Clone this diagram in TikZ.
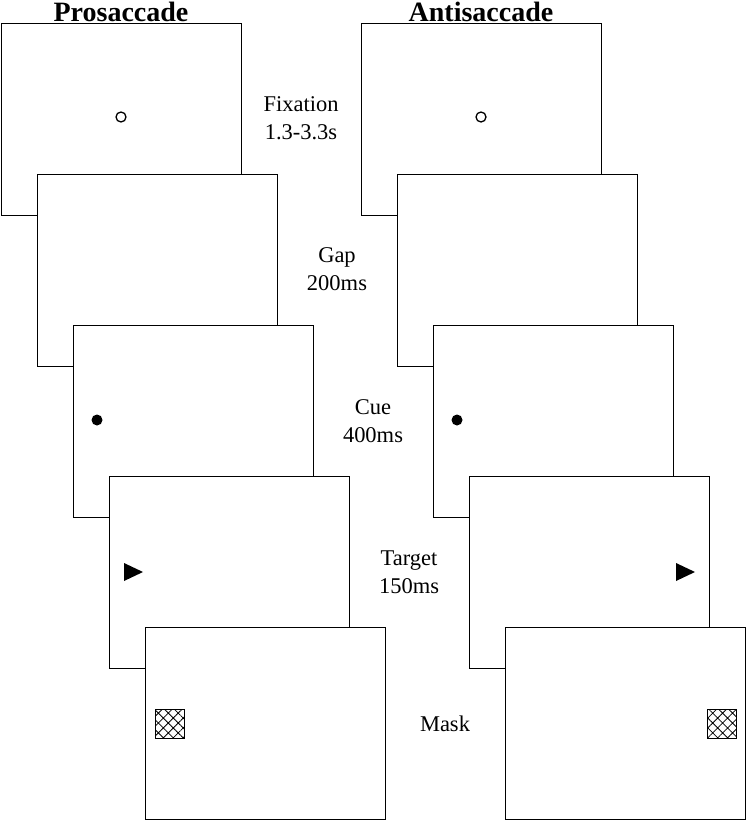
\documentclass[tikz,border=0pt]{standalone}
\usepackage{fontspec}
\setmainfont{Liberation Serif}
\usetikzlibrary{positioning,patterns.meta}

\tikzset{
  screen/.style={draw, fill=white, line width=1pt, minimum width=240pt,
    minimum height=192pt, inner sep=0pt, anchor=north west},
  phase/.style={align=center, font=\fontsize{22.5}{28.5}\selectfont},
  title/.style={font=\fontsize{28}{30}\selectfont\bfseries, anchor=base},
  fixdot/.style={circle, draw, line width=1.3pt, minimum size=10pt, inner sep=0pt},
  cuedot/.style={circle, fill, minimum size=11pt, inner sep=0pt},
  maskbox/.style={draw, line width=1pt, minimum size=29pt, inner sep=0pt,
    pattern={Hatch[angle=45,distance=7pt,line width=0.8pt]}},
}

\begin{document}
\begin{tikzpicture}[x=1pt,y=-1pt]
  \useasboundingbox (0,0) rectangle (747,822);

  % 1. titles
  \node[title] (protitle) at (121,21) {Prosaccade};
  \node[title] (antititle) at (481,21) {Antisaccade};

  % 2. stacked screens (each one drawn on top of the previous)
  \foreach \nm [count=\k from 0] in {fix,gap,cue,target,mask}{
    \node[screen] (p\nm) at ({1+36*\k},{23+151*\k}) {};
    \node[screen] (a\nm) at ({361+36*\k},{23+151*\k}) {};
  }

  % 3. stimuli, prosaccade
  \node[fixdot] (pfixpt) at (121,117) {};
  \node[cuedot] (pcuept) at (97,420) {};
  \fill (124,563) -- (143,572) -- (124,581) -- cycle;
  \node[maskbox] (pmaskpt) at (169.5,723.5) {};

  % 4. stimuli, antisaccade
  \node[fixdot] (afixpt) at (481,117) {};
  \node[cuedot] (acuept) at (457,420) {};
  \fill (676,563) -- (695,572) -- (676,581) -- cycle;
  \node[maskbox] (amaskpt) at (721.5,723.5) {};

  % 5. phase labels
  \node[phase] (lfix) at (301,118) {Fixation\\1.3-3.3s};
  \node[phase] (lgap) at (337,269) {Gap\\200ms};
  \node[phase] (lcue) at (373,421) {Cue\\400ms};
  \node[phase] (ltarget) at (409,572) {Target\\150ms};
  \node[phase] (lmask) at (445,724) {Mask};
\end{tikzpicture}
\end{document}
